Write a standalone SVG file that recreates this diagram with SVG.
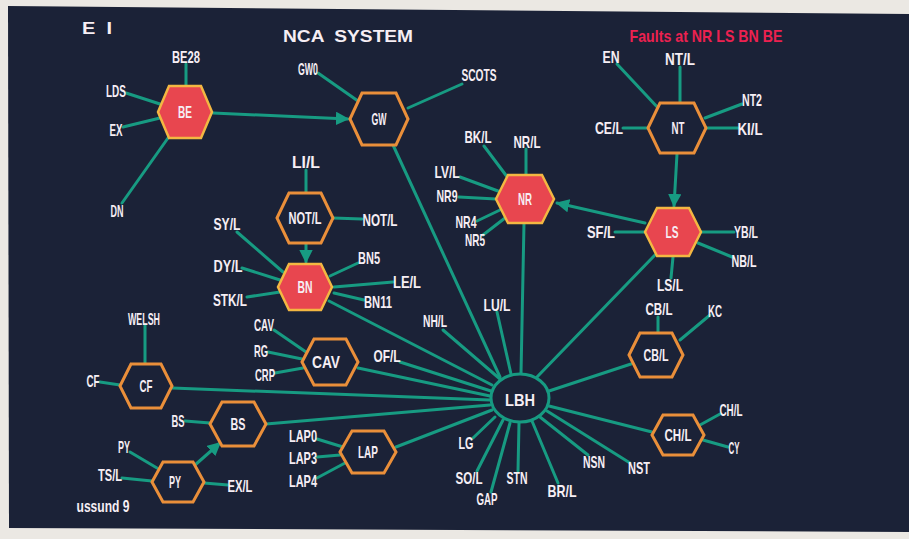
<svg xmlns="http://www.w3.org/2000/svg" width="909" height="539" viewBox="0 0 909 539">
<style>
.lb{font-family:"Liberation Sans",Arial,sans-serif;font-weight:bold;font-size:17px;fill:#f6eef4;text-anchor:middle}
.hl{font-family:"Liberation Sans",Arial,sans-serif;font-weight:bold;font-size:17px;fill:#f6eef4;text-anchor:middle}
.ln{stroke:#179b82;stroke-width:3;fill:none;stroke-linecap:round}
.red{fill:#e8464f;stroke:#f3b742;stroke-width:2.5}
.out{fill:#1b2237;stroke:#ea8f3a;stroke-width:3}
</style>
<defs>
<marker id="ah" viewBox="0 0 10 10" refX="9" refY="5" markerWidth="4.5" markerHeight="4.5" orient="auto" markerUnits="strokeWidth">
<path d="M0,0 L10,5 L0,10 Z" fill="#179b82"/>
</marker>
</defs>
<rect x="0" y="0" width="909" height="539" fill="#ebe8e3"/>
<polygon points="8,6 909,14 909,532 9,528" fill="#1b2237"/>
<g id="titles">
<text class="lb" x="97" y="34" font-size="19" textLength="30" lengthAdjust="spacingAndGlyphs" style="white-space:pre">E  I</text>
<text class="lb" x="348" y="42" font-size="25" textLength="130" lengthAdjust="spacingAndGlyphs" style="white-space:pre">NCA  SYSTEM</text>
<text class="lb" x="706" y="42" font-size="19" style="fill:#ec2150" textLength="153" lengthAdjust="spacingAndGlyphs">Faults at NR LS BN BE</text>
<text class="lb" x="103" y="512" font-size="12" textLength="53" lengthAdjust="spacingAndGlyphs">ussund 9</text>
</g>
<g id="connectors">
<line class="ln" x1="186" y1="64" x2="186" y2="86"/>
<line class="ln" x1="126" y1="93" x2="160" y2="104"/>
<line class="ln" x1="123" y1="127" x2="160" y2="118"/>
<line class="ln" x1="168" y1="138" x2="122" y2="203"/>
<line class="ln" x1="213" y1="113" x2="348" y2="119" marker-end="url(#ah)"/>
<line class="ln" x1="318" y1="73" x2="358" y2="101"/>
<line class="ln" x1="408" y1="108" x2="462" y2="84"/>
<line class="ln" x1="393" y1="145" x2="500" y2="377"/>
<line class="ln" x1="617" y1="64" x2="660" y2="110"/>
<line class="ln" x1="680" y1="67" x2="680" y2="103"/>
<line class="ln" x1="705" y1="118" x2="742" y2="104"/>
<line class="ln" x1="707" y1="128" x2="738" y2="128"/>
<line class="ln" x1="623" y1="128" x2="648" y2="128"/>
<line class="ln" x1="677" y1="154" x2="674" y2="206" marker-end="url(#ah)"/>
<line class="ln" x1="645" y1="223" x2="557" y2="203" marker-end="url(#ah)"/>
<line class="ln" x1="615" y1="232" x2="645" y2="232"/>
<line class="ln" x1="701" y1="232" x2="734" y2="232"/>
<line class="ln" x1="698" y1="243" x2="732" y2="257"/>
<line class="ln" x1="673" y1="257" x2="671" y2="278"/>
<line class="ln" x1="655" y1="255" x2="537" y2="377"/>
<line class="ln" x1="484" y1="146" x2="508" y2="178"/>
<line class="ln" x1="526" y1="149" x2="526" y2="175"/>
<line class="ln" x1="460" y1="177" x2="498" y2="191"/>
<line class="ln" x1="459" y1="197" x2="496" y2="199"/>
<line class="ln" x1="477" y1="221" x2="500" y2="210"/>
<line class="ln" x1="483" y1="235" x2="505" y2="218"/>
<line class="ln" x1="524" y1="223" x2="521" y2="374"/>
<line class="ln" x1="306" y1="170" x2="306" y2="193"/>
<line class="ln" x1="333" y1="218" x2="362" y2="219"/>
<line class="ln" x1="306" y1="243" x2="306" y2="262" marker-end="url(#ah)"/>
<line class="ln" x1="237" y1="232" x2="283" y2="272"/>
<line class="ln" x1="242" y1="268" x2="280" y2="280"/>
<line class="ln" x1="247" y1="297" x2="280" y2="292"/>
<line class="ln" x1="358" y1="263" x2="330" y2="276"/>
<line class="ln" x1="393" y1="282" x2="334" y2="287"/>
<line class="ln" x1="364" y1="300" x2="334" y2="293"/>
<line class="ln" x1="329" y1="301" x2="492" y2="385"/>
<line class="ln" x1="443" y1="330" x2="500" y2="379"/>
<line class="ln" x1="497" y1="312" x2="511" y2="374"/>
<line class="ln" x1="274" y1="330" x2="306" y2="352"/>
<line class="ln" x1="268" y1="352" x2="302" y2="359"/>
<line class="ln" x1="275" y1="373" x2="303" y2="368"/>
<line class="ln" x1="358" y1="368" x2="490" y2="396"/>
<line class="ln" x1="400" y1="362" x2="491" y2="391"/>
<line class="ln" x1="145" y1="325" x2="145" y2="364"/>
<line class="ln" x1="100" y1="382" x2="120" y2="385"/>
<line class="ln" x1="172" y1="388" x2="490" y2="400"/>
<line class="ln" x1="185" y1="421" x2="210" y2="423"/>
<line class="ln" x1="266" y1="424" x2="490" y2="405"/>
<line class="ln" x1="130" y1="452" x2="157" y2="468"/>
<line class="ln" x1="122" y1="478" x2="152" y2="481"/>
<line class="ln" x1="204" y1="483" x2="228" y2="485"/>
<line class="ln" x1="195" y1="465" x2="220" y2="443" marker-end="url(#ah)"/>
<line class="ln" x1="317" y1="439" x2="343" y2="447"/>
<line class="ln" x1="317" y1="457" x2="340" y2="455"/>
<line class="ln" x1="317" y1="478" x2="345" y2="463"/>
<line class="ln" x1="396" y1="447" x2="492" y2="410"/>
<line class="ln" x1="473" y1="438" x2="495" y2="417"/>
<line class="ln" x1="477" y1="471" x2="503" y2="420"/>
<line class="ln" x1="491" y1="492" x2="510" y2="423"/>
<line class="ln" x1="518" y1="471" x2="519" y2="423"/>
<line class="ln" x1="558" y1="483" x2="532" y2="421"/>
<line class="ln" x1="588" y1="455" x2="540" y2="417"/>
<line class="ln" x1="630" y1="463" x2="547" y2="411"/>
<line class="ln" x1="549" y1="406" x2="652" y2="432"/>
<line class="ln" x1="549" y1="391" x2="631" y2="364"/>
<line class="ln" x1="658" y1="317" x2="658" y2="333"/>
<line class="ln" x1="710" y1="315" x2="680" y2="340"/>
<line class="ln" x1="720" y1="414" x2="700" y2="425"/>
<line class="ln" x1="728" y1="447" x2="703" y2="440"/>
</g>
<g id="node-BE"><polygon class="red" points="158,112 169,86 201,86 212,112 201,138 169,138"/><text class="hl" x="185" y="118" textLength="14" lengthAdjust="spacingAndGlyphs">BE</text></g>
<g id="node-GW"><polygon class="out" points="350,119 362,93 396,93 408,119 396,145 362,145"/><text class="hl" x="379" y="125" textLength="15" lengthAdjust="spacingAndGlyphs">GW</text></g>
<g id="node-NT"><polygon class="out" points="648,128 660,103 694,103 706,128 694,153 660,153"/><text class="hl" x="678" y="134" textLength="13" lengthAdjust="spacingAndGlyphs">NT</text></g>
<g id="node-NR"><polygon class="red" points="496,199 508,175 542,175 554,199 542,223 508,223"/><text class="hl" x="525" y="205" textLength="14" lengthAdjust="spacingAndGlyphs">NR</text></g>
<g id="node-LS"><polygon class="red" points="645,232 657,208 689,208 701,232 689,256 657,256"/><text class="hl" x="672" y="238" textLength="13" lengthAdjust="spacingAndGlyphs">LS</text></g>
<g id="node-NOTL"><polygon class="out" points="277,218 289,193 321,193 333,218 321,243 289,243"/><text class="hl" x="305" y="224" textLength="33" lengthAdjust="spacingAndGlyphs">NOT/L</text></g>
<g id="node-BN"><polygon class="red" points="278,287 289,264 321,264 332,287 321,310 289,310"/><text class="hl" x="305" y="293" textLength="15" lengthAdjust="spacingAndGlyphs">BN</text></g>
<g id="node-CAV"><polygon class="out" points="302,362 314,339 346,339 358,362 346,385 314,385"/><text class="hl" x="326" y="368" textLength="28" lengthAdjust="spacingAndGlyphs">CAV</text></g>
<g id="node-CF"><polygon class="out" points="120,386 131,364 161,364 172,386 161,408 131,408"/><text class="hl" x="146" y="392" textLength="13" lengthAdjust="spacingAndGlyphs">CF</text></g>
<g id="node-BS"><polygon class="out" points="210,424 222,402 254,402 266,424 254,446 222,446"/><text class="hl" x="238" y="430" textLength="15" lengthAdjust="spacingAndGlyphs">BS</text></g>
<g id="node-PY"><polygon class="out" points="152,482 163,462 193,462 204,482 193,502 163,502"/><text class="hl" x="175" y="488" textLength="12" lengthAdjust="spacingAndGlyphs">PY</text></g>
<g id="node-LAP"><polygon class="out" points="340,452 352,431 384,431 396,452 384,473 352,473"/><text class="hl" x="368" y="458" textLength="20" lengthAdjust="spacingAndGlyphs">LAP</text></g>
<g id="node-CBL"><polygon class="out" points="629,355 640,333 672,333 683,355 672,377 640,377"/><text class="hl" x="656" y="361" textLength="25" lengthAdjust="spacingAndGlyphs">CB/L</text></g>
<g id="node-CHL"><polygon class="out" points="652,435 663,415 693,415 704,435 693,455 663,455"/><text class="hl" x="678" y="441" textLength="27" lengthAdjust="spacingAndGlyphs">CH/L</text></g>
<g id="node-LBH"><ellipse cx="520" cy="398" rx="29" ry="24" fill="#1b2237" stroke="#179b82" stroke-width="3"/><text class="hl" x="520" y="406" font-size="21" textLength="30" lengthAdjust="spacingAndGlyphs">LBH</text></g>
<g id="labels">
<g id="l-BE28"><text class="lb" x="186" y="63" textLength="28" lengthAdjust="spacingAndGlyphs">BE28</text></g>
<g id="l-LDS"><text class="lb" x="116" y="97" textLength="20" lengthAdjust="spacingAndGlyphs">LDS</text></g>
<g id="l-EX"><text class="lb" x="116" y="136" textLength="13" lengthAdjust="spacingAndGlyphs">EX</text></g>
<g id="l-DN"><text class="lb" x="117" y="217" textLength="13" lengthAdjust="spacingAndGlyphs">DN</text></g>
<g id="l-GW0"><text class="lb" x="308" y="75" textLength="20" lengthAdjust="spacingAndGlyphs">GW0</text></g>
<g id="l-SCOTS"><text class="lb" x="479" y="81" textLength="35" lengthAdjust="spacingAndGlyphs">SCOTS</text></g>
<g id="l-LIL"><text class="lb" x="306" y="168" textLength="28" lengthAdjust="spacingAndGlyphs">LI/L</text></g>
<g id="l-NOTL"><text class="lb" x="380" y="226" textLength="35" lengthAdjust="spacingAndGlyphs">NOT/L</text></g>
<g id="l-SYL"><text class="lb" x="227" y="230" textLength="27" lengthAdjust="spacingAndGlyphs">SY/L</text></g>
<g id="l-DYL"><text class="lb" x="228" y="272" textLength="29" lengthAdjust="spacingAndGlyphs">DY/L</text></g>
<g id="l-STKL"><text class="lb" x="230" y="306" textLength="34" lengthAdjust="spacingAndGlyphs">STK/L</text></g>
<g id="l-BN5"><text class="lb" x="369" y="264" textLength="22" lengthAdjust="spacingAndGlyphs">BN5</text></g>
<g id="l-LEL"><text class="lb" x="407" y="288" textLength="28" lengthAdjust="spacingAndGlyphs">LE/L</text></g>
<g id="l-BN11"><text class="lb" x="378" y="308" textLength="28" lengthAdjust="spacingAndGlyphs">BN11</text></g>
<g id="l-WELSH"><text class="lb" x="144" y="325" textLength="32" lengthAdjust="spacingAndGlyphs">WELSH</text></g>
<g id="l-CAV"><text class="lb" x="264" y="331" textLength="20" lengthAdjust="spacingAndGlyphs">CAV</text></g>
<g id="l-RG"><text class="lb" x="261" y="357" textLength="14" lengthAdjust="spacingAndGlyphs">RG</text></g>
<g id="l-CRP"><text class="lb" x="265" y="381" textLength="20" lengthAdjust="spacingAndGlyphs">CRP</text></g>
<g id="l-OFL"><text class="lb" x="387" y="362" textLength="27" lengthAdjust="spacingAndGlyphs">OF/L</text></g>
<g id="l-CF"><text class="lb" x="93" y="387" textLength="13" lengthAdjust="spacingAndGlyphs">CF</text></g>
<g id="l-BS"><text class="lb" x="178" y="427" textLength="13" lengthAdjust="spacingAndGlyphs">BS</text></g>
<g id="l-PY"><text class="lb" x="124" y="453" textLength="12" lengthAdjust="spacingAndGlyphs">PY</text></g>
<g id="l-TSL"><text class="lb" x="110" y="481" textLength="24" lengthAdjust="spacingAndGlyphs">TS/L</text></g>
<g id="l-EXL"><text class="lb" x="240" y="492" textLength="25" lengthAdjust="spacingAndGlyphs">EX/L</text></g>
<g id="l-LAP0"><text class="lb" x="303" y="442" textLength="28" lengthAdjust="spacingAndGlyphs">LAP0</text></g>
<g id="l-LAP3"><text class="lb" x="303" y="464" textLength="28" lengthAdjust="spacingAndGlyphs">LAP3</text></g>
<g id="l-LAP4"><text class="lb" x="303" y="487" textLength="28" lengthAdjust="spacingAndGlyphs">LAP4</text></g>
<g id="l-NHL"><text class="lb" x="435" y="327" textLength="24" lengthAdjust="spacingAndGlyphs">NH/L</text></g>
<g id="l-LUL"><text class="lb" x="497" y="311" textLength="27" lengthAdjust="spacingAndGlyphs">LU/L</text></g>
<g id="l-BKL"><text class="lb" x="478" y="143" textLength="27" lengthAdjust="spacingAndGlyphs">BK/L</text></g>
<g id="l-NRL"><text class="lb" x="527" y="148" textLength="27" lengthAdjust="spacingAndGlyphs">NR/L</text></g>
<g id="l-LVL"><text class="lb" x="447" y="178" textLength="25" lengthAdjust="spacingAndGlyphs">LV/L</text></g>
<g id="l-NR9"><text class="lb" x="447" y="202" textLength="21" lengthAdjust="spacingAndGlyphs">NR9</text></g>
<g id="l-NR4"><text class="lb" x="466" y="228" textLength="21" lengthAdjust="spacingAndGlyphs">NR4</text></g>
<g id="l-NR5"><text class="lb" x="475" y="246" textLength="20" lengthAdjust="spacingAndGlyphs">NR5</text></g>
<g id="l-EN"><text class="lb" x="611" y="63" textLength="17" lengthAdjust="spacingAndGlyphs">EN</text></g>
<g id="l-NTL"><text class="lb" x="680" y="65" textLength="30" lengthAdjust="spacingAndGlyphs">NT/L</text></g>
<g id="l-NT2"><text class="lb" x="752" y="106" textLength="20" lengthAdjust="spacingAndGlyphs">NT2</text></g>
<g id="l-KIL"><text class="lb" x="750" y="135" textLength="25" lengthAdjust="spacingAndGlyphs">KI/L</text></g>
<g id="l-CEL"><text class="lb" x="609" y="134" textLength="28" lengthAdjust="spacingAndGlyphs">CE/L</text></g>
<g id="l-SFL"><text class="lb" x="601" y="238" textLength="28" lengthAdjust="spacingAndGlyphs">SF/L</text></g>
<g id="l-YBL"><text class="lb" x="746" y="238" textLength="24" lengthAdjust="spacingAndGlyphs">YB/L</text></g>
<g id="l-NBL"><text class="lb" x="744" y="267" textLength="25" lengthAdjust="spacingAndGlyphs">NB/L</text></g>
<g id="l-LSL"><text class="lb" x="670" y="291" textLength="26" lengthAdjust="spacingAndGlyphs">LS/L</text></g>
<g id="l-CBL"><text class="lb" x="659" y="315" textLength="27" lengthAdjust="spacingAndGlyphs">CB/L</text></g>
<g id="l-KC"><text class="lb" x="715" y="317" textLength="14" lengthAdjust="spacingAndGlyphs">KC</text></g>
<g id="l-CHL"><text class="lb" x="731" y="416" textLength="23" lengthAdjust="spacingAndGlyphs">CH/L</text></g>
<g id="l-CY"><text class="lb" x="734" y="454" textLength="11" lengthAdjust="spacingAndGlyphs">CY</text></g>
<g id="l-LG"><text class="lb" x="466" y="449" textLength="15" lengthAdjust="spacingAndGlyphs">LG</text></g>
<g id="l-SOL"><text class="lb" x="469" y="484" textLength="27" lengthAdjust="spacingAndGlyphs">SO/L</text></g>
<g id="l-GAP"><text class="lb" x="487" y="505" textLength="21" lengthAdjust="spacingAndGlyphs">GAP</text></g>
<g id="l-STN"><text class="lb" x="517" y="484" textLength="21" lengthAdjust="spacingAndGlyphs">STN</text></g>
<g id="l-BRL"><text class="lb" x="562" y="497" textLength="29" lengthAdjust="spacingAndGlyphs">BR/L</text></g>
<g id="l-NSN"><text class="lb" x="594" y="468" textLength="22" lengthAdjust="spacingAndGlyphs">NSN</text></g>
<g id="l-NST"><text class="lb" x="639" y="474" textLength="22" lengthAdjust="spacingAndGlyphs">NST</text></g>
</g>
</svg>
